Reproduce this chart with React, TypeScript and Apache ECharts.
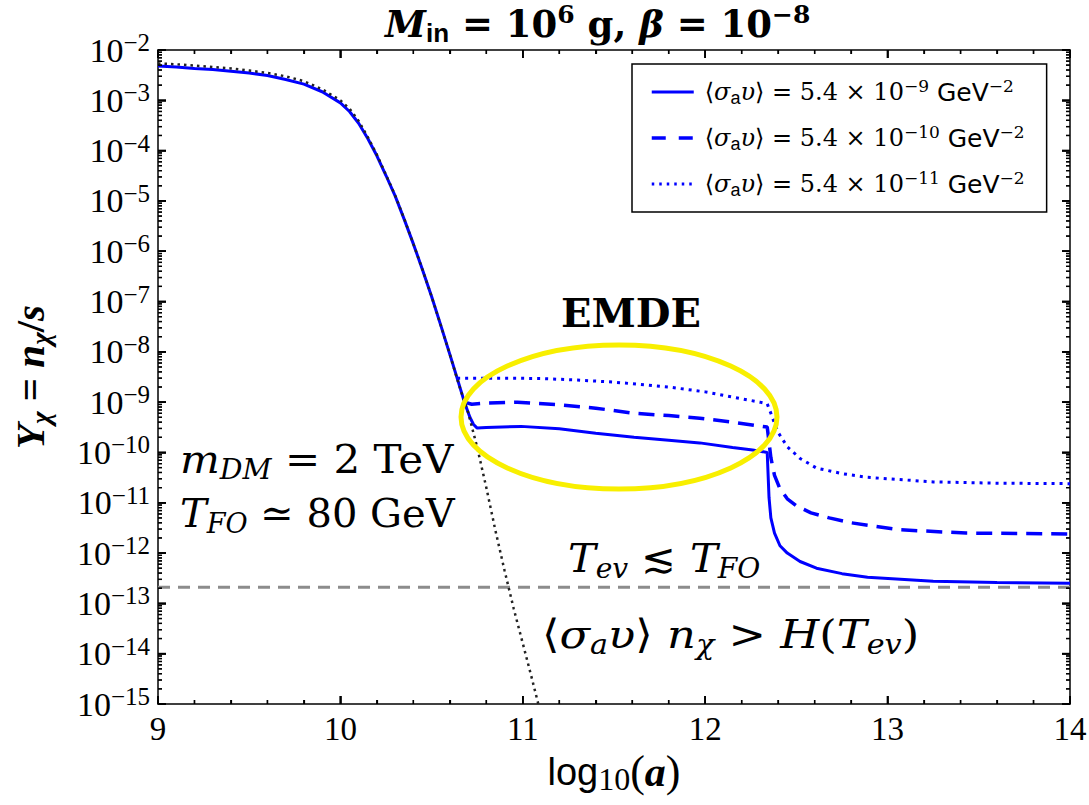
import React, { useEffect, useRef } from "react";
import * as echarts from "echarts";

// ---- data (x = log10(a), y = Y_chi) ----
const solidX = [9.0, 9.1, 9.2, 9.3, 9.4, 9.5, 9.6, 9.7, 9.8, 9.9, 10.0, 10.05, 10.1, 10.15, 10.2, 10.25, 10.3, 10.35, 10.4, 10.45, 10.5, 10.55, 10.6, 10.64, 10.68, 10.71, 10.73, 10.75, 10.8, 10.99, 11.2, 11.4, 11.61, 11.8, 11.97, 12.15, 12.26, 12.34, 12.35, 12.36, 12.38, 12.41, 12.45, 12.52, 12.61, 12.75, 12.89, 13.25, 13.6, 14.0];
const solidY = [4.8e-3, 4.6e-3, 4.3e-3, 4.1e-3, 3.8e-3, 3.5e-3, 3.1e-3, 2.6e-3, 2.1e-3, 1.48e-3, 8.9e-4, 6.0e-4, 3.5e-4, 1.74e-4, 7.9e-5, 3.2e-5, 1.26e-5, 4.3e-6, 1.4e-6, 4.3e-7, 1.26e-7, 3.4e-8, 8.9e-9, 3.0e-9, 1.0e-9, 5.0e-10, 3.6e-10, 3.05e-10, 3.15e-10, 3.3e-10, 2.95e-10, 2.4e-10, 2.0e-10, 1.75e-10, 1.55e-10, 1.26e-10, 1.12e-10, 1.0e-10, 1.26e-11, 5.0e-12, 2.5e-12, 1.4e-12, 1.0e-12, 6.8e-13, 5.0e-13, 3.9e-13, 3.3e-13, 2.75e-13, 2.6e-13, 2.5e-13];

const dashedX = [10.68, 10.72, 10.8, 10.97, 11.2, 11.4, 11.61, 11.8, 11.97, 12.15, 12.34, 12.35, 12.36, 12.38, 12.41, 12.45, 12.5, 12.58, 12.68, 12.8, 13.07, 13.43, 14.0];
const dashedY = [1.0e-9, 9.1e-10, 9.6e-10, 1.0e-9, 8.9e-10, 7.6e-10, 6.0e-10, 5.4e-10, 4.8e-10, 4.0e-10, 3.2e-10, 1.6e-10, 7.9e-11, 3.5e-11, 1.9e-11, 1.2e-11, 8.7e-12, 6.3e-12, 5.0e-12, 4.0e-12, 2.9e-12, 2.5e-12, 2.4e-12];

const dottedX = [10.64, 10.75, 10.9, 11.1, 11.3, 11.5, 11.8, 12.0, 12.15, 12.3, 12.34, 12.36, 12.38, 12.4, 12.45, 12.52, 12.61, 12.75, 12.89, 13.25, 13.6, 14.0];
const dottedY = [3.0e-9, 3.0e-9, 3.0e-9, 2.95e-9, 2.75e-9, 2.5e-9, 2.0e-9, 1.6e-9, 1.26e-9, 1.0e-9, 9.3e-10, 6.0e-10, 3.8e-10, 2.5e-10, 1.3e-10, 7.6e-11, 4.9e-11, 3.8e-11, 3.2e-11, 2.6e-11, 2.45e-11, 2.4e-11];

const eqX = [9.0, 9.1, 9.2, 9.3, 9.4, 9.5, 9.6, 9.7, 9.8, 9.9, 10.0, 10.05, 10.1, 10.15, 10.2, 10.25, 10.3, 10.35, 10.4, 10.45, 10.5, 10.55, 10.6, 10.65, 10.7, 10.75, 10.8, 10.85, 10.9, 10.95, 11.0, 11.05, 11.085];
const eqY = [5.4e-3, 5.2e-3, 4.9e-3, 4.6e-3, 4.3e-3, 3.9e-3, 3.5e-3, 3.0e-3, 2.4e-3, 1.66e-3, 1.0e-3, 6.8e-4, 3.9e-4, 1.86e-4, 8.3e-5, 3.3e-5, 1.29e-5, 4.4e-6, 1.4e-6, 4.3e-7, 1.26e-7, 3.4e-8, 8.9e-9, 2.2e-9, 6.3e-10, 1.26e-10, 2.0e-11, 2.8e-12, 4.5e-13, 7.9e-14, 1.6e-14, 3.2e-15, 1.0e-15];

const refX = [9, 14];
const refY = [2.1e-13, 2.1e-13];

const seriesNames = ["sv9", "sv10", "sv11"];
const seriesExps = ["9", "10", "11"];

// tick positions
const xMajorTicks = [9, 10, 11, 12, 13, 14];
const xMinorTicks = [9.2, 9.4, 9.6, 9.8, 10.2, 10.4, 10.6, 10.8, 11.2, 11.4, 11.6, 11.8, 12.2, 12.4, 12.6, 12.8, 13.2, 13.4, 13.6, 13.8];
const yDecades = [1e-15, 1e-14, 1e-13, 1e-12, 1e-11, 1e-10, 1e-9, 1e-8, 1e-7, 1e-6, 1e-5, 1e-4, 1e-3, 1e-2];
const minorMultipliers = [2, 3, 4, 5, 6, 7, 8, 9];

const pairs = (xs: number[], ys: number[]) => xs.map((x, i) => [x, ys[i]]);

const SERIF = "'Liberation Serif', serif";
const SANS = "'Liberation Sans', sans-serif";
const MATH = "'DejaVu Serif', serif";
const DSANS = "'DejaVu Sans', sans-serif";

const X_MIN = 9;
const X_MAX = 14;
const Y_MIN = 1e-15;
const Y_MAX = 1e-2;

export default function App() {
  const ref = useRef<HTMLDivElement>(null);
  useEffect(() => {
    const chart = echarts.init(ref.current!, null, { renderer: "svg" });

    const yMinorTicks: number[] = [];
    for (let d = 0; d < yDecades.length - 1; d++) {
      for (const k of minorMultipliers) yMinorTicks.push(k * yDecades[d]);
    }

    const yLabelRich = {
      b: { fontFamily: SERIF, fontSize: 34, lineHeight: 40, color: "#000" },
      s: { fontFamily: SERIF, fontSize: 25, lineHeight: 24, verticalAlign: "top", color: "#000" },
    };
    const expFmt = (v: number) => {
      const e = Math.round(Math.log10(v));
      return `{b|10}{s|\u2212${-e}}`;
    };

    const axisLine = { show: true, lineStyle: { color: "#000", width: 1.5 } };
    const majorTick = { show: true, inside: true, length: 8, lineStyle: { color: "#000", width: 1.5 } };
    const minorTickX = { show: true, splitNumber: 5, length: 4, lineStyle: { color: "#000", width: 1.2 } };

    const legendFmt = (name: string) => {
      const i = seriesNames.indexOf(name);
      return `{t|\u27E8}{i|\u03C3}{a|a}{i|\u03C5}{t|\u27E9 = 5.4 \u00D7 10}{sup|\u2212${seriesExps[i]}}{g| GeV}{sup|\u22122}`;
    };

    const hiddenSym = { opacity: 0 };

    const mathRich = {
      i: { fontFamily: MATH, fontStyle: "italic", fontSize: 40, lineHeight: 48, fill: "#000" },
      sub: { fontFamily: MATH, fontStyle: "italic", fontSize: 27, lineHeight: 18, verticalAlign: "bottom", fill: "#000" },
      t: { fontFamily: MATH, fontSize: 40, lineHeight: 48, fill: "#000" },
    };

    // custom-series tick renderers (rects, positioned through the axes' scales)
    const xTickRender = (len: number, lw: number) => (_p: any, api: any) => {
      const v = api.value(0);
      const pb = api.coord([v, Y_MIN]);
      const pt = api.coord([v, Y_MAX]);
      return {
        type: "group",
        children: [
          { type: "rect", shape: { x: pb[0] - lw / 2, y: pb[1] - len, width: lw, height: len }, style: { fill: "#000" } },
          { type: "rect", shape: { x: pt[0] - lw / 2, y: pt[1], width: lw, height: len }, style: { fill: "#000" } },
        ],
      };
    };
    const yTickRender = (len: number, lw: number) => (_p: any, api: any) => {
      const v = api.value(1);
      const pl = api.coord([X_MIN, v]);
      const pr = api.coord([X_MAX, v]);
      return {
        type: "group",
        children: [
          { type: "rect", shape: { x: pl[0], y: pl[1] - lw / 2, width: len, height: lw }, style: { fill: "#000" } },
          { type: "rect", shape: { x: pr[0] - len, y: pr[1] - lw / 2, width: len, height: lw }, style: { fill: "#000" } },
        ],
      };
    };
    const tickSeries = (name: string, data: number[][], render: any) => ({
      name,
      type: "custom",
      data,
      renderItem: render,
      silent: true,
      clip: false,
      z: 6,
    });

    const baseGraphics: any[] = [
      {
        type: "ellipse",
        shape: { cx: 619, cy: 417, rx: 158, ry: 72 },
        style: { fill: "none", stroke: "#f8ef00", lineWidth: 5 },
        z: 100,
      },
      {
        type: "text",
        x: 631,
        y: 312,
        style: { text: "EMDE", fontFamily: MATH, fontWeight: "bold", fontSize: 40, fill: "#000", align: "center", verticalAlign: "middle" },
        z: 100,
      },
      {
        type: "text",
        x: 180,
        y: 435,
        scaleX: 1.05,
        style: { text: "{i|m}{sub|DM}{t| = 2 TeV}", align: "left", verticalAlign: "top", rich: mathRich },
        z: 100,
      },
      {
        type: "text",
        x: 180,
        y: 489,
        style: { text: "{i|T}{sub|FO}{t| \u2243 80 GeV}", align: "left", verticalAlign: "top", rich: mathRich },
        z: 100,
      },
      {
        type: "text",
        x: 568,
        y: 534,
        scaleX: 1.04,
        style: { text: "{i|T}{sub|ev}{t| \u2272 }{i|T}{sub|FO}", align: "left", verticalAlign: "top", rich: mathRich },
        z: 100,
      },
      {
        type: "text",
        x: 542,
        y: 610,
        scaleX: 1.12,
        style: {
          text: "{t|\u27E8}{i|\u03C3}{sub|a}{i|\u03C5}{t|\u27E9 }{i|n}{sub|\u03C7}{t| > }{i|H}{t|(}{i|T}{sub|ev}{t|)}",
          align: "left",
          verticalAlign: "top",
          rich: mathRich,
        },
        z: 100,
      },
    ];

    const option: any = {
      animation: false,
      backgroundColor: "#fff",
      title: {
        left: 385,
        top: 2,
        padding: 0,
        text: "{M|M}{in|in}{eq| = 10}{sup|6}{g| g, }{M|\u03B2}{eq| = 10}{sup|\u22128}",
        textStyle: {
          rich: {
            M: { fontFamily: MATH, fontSize: 37, fontWeight: "bold", fontStyle: "italic", lineHeight: 44, color: "#000" },
            in: { fontFamily: SANS, fontSize: 26, lineHeight: 16, verticalAlign: "bottom", color: "#000" },
            eq: { fontFamily: MATH, fontSize: 37, fontWeight: "bold", lineHeight: 44, color: "#000" },
            g: { fontFamily: MATH, fontSize: 37, lineHeight: 44, color: "#000" },
            sup: { fontFamily: MATH, fontSize: 25, fontWeight: "bold", lineHeight: 24, verticalAlign: "top", color: "#000" },
          },
        },
      },
      grid: { left: 158, right: 19, top: 50, bottom: 101, outerBoundsMode: "none", containLabel: false },
      legend: {
        data: [
          { name: seriesNames[0], itemStyle: hiddenSym, lineStyle: { color: "#0000ff", width: 3, type: "solid" } },
          { name: seriesNames[1], itemStyle: hiddenSym, lineStyle: { color: "#0000ff", width: 3.5, type: [14, 13] } },
          { name: seriesNames[2], itemStyle: hiddenSym, lineStyle: { color: "#0000ff", width: 3, type: [2.5, 5] } },
        ],
        left: 632,
        top: 64,
        orient: "vertical",
        padding: [13, 22, 13, 18],
        itemGap: 16,
        itemWidth: 42,
        itemHeight: 14,
        borderColor: "#000",
        borderWidth: 1.5,
        borderRadius: 0,
        backgroundColor: "#fff",
        formatter: legendFmt,
        textStyle: {
          padding: [0, 0, 0, 6],
          rich: {
            t: { fontFamily: MATH, fontSize: 24, lineHeight: 30, color: "#000" },
            i: { fontFamily: MATH, fontSize: 24, fontStyle: "italic", lineHeight: 30, color: "#000" },
            a: { fontFamily: SANS, fontSize: 18, lineHeight: 20, verticalAlign: "bottom", color: "#000" },
            sup: { fontFamily: MATH, fontSize: 17, lineHeight: 18, verticalAlign: "top", color: "#000" },
            g: { fontFamily: DSANS, fontSize: 25, lineHeight: 30, color: "#000" },
          },
        },
      },
      xAxis: [
        {
          type: "value",
          min: X_MIN,
          max: X_MAX,
          interval: 1,
          position: "bottom",
          name: "{s|log}{sub|10}{p|(}{a|a}{p|)}",
          nameLocation: "middle",
          nameGap: 44,
          nameTextStyle: {
            rich: {
              s: { fontFamily: SANS, fontSize: 38, lineHeight: 46, color: "#000" },
              sub: { fontFamily: SERIF, fontSize: 32, lineHeight: 20, verticalAlign: "bottom", color: "#000" },
              p: { fontFamily: SERIF, fontSize: 44, lineHeight: 46, color: "#000" },
              a: { fontFamily: SERIF, fontSize: 42, fontWeight: "bold", fontStyle: "italic", lineHeight: 46, color: "#000" },
            },
          },
          axisLine,
          splitLine: { show: false },
          axisTick: majorTick,
          minorTick: minorTickX,
          axisLabel: { margin: 8, fontFamily: SERIF, fontSize: 33, color: "#000" },
        },
        {
          type: "value",
          min: X_MIN,
          max: X_MAX,
          interval: 1,
          position: "top",
          axisLine,
          splitLine: { show: false },
          axisTick: majorTick,
          minorTick: minorTickX,
          axisLabel: { show: false },
        },
      ],
      yAxis: [
        {
          type: "log",
          logBase: 10,
          min: Y_MIN,
          max: Y_MAX,
          position: "left",
          splitLine: { show: false },
          axisLine,
          name: "{Y|Y}{sub|\u03C7}{eq| = }{Y|n}{sub|\u03C7}{eq|/}{Y|s}",
          nameLocation: "middle",
          nameRotate: 90,
          nameGap: 104,
          nameTextStyle: {
            rich: {
              Y: { fontFamily: SERIF, fontSize: 41, fontWeight: "bold", fontStyle: "italic", lineHeight: 48, color: "#000" },
              sub: { fontFamily: SERIF, fontSize: 27, fontWeight: "bold", fontStyle: "italic", lineHeight: 18, verticalAlign: "bottom", color: "#000" },
              eq: { fontFamily: SERIF, fontSize: 41, fontWeight: "bold", lineHeight: 48, color: "#000" },
            },
          },
          axisTick: { ...majorTick, customValues: yDecades },
          axisLabel: { margin: 8, formatter: expFmt, rich: yLabelRich, customValues: yDecades },
        },
        {
          type: "log",
          logBase: 10,
          min: Y_MIN,
          max: Y_MAX,
          position: "right",
          splitLine: { show: false },
          axisLine,
          axisTick: { ...majorTick, customValues: yDecades },
          axisLabel: { show: false },
        },
      ],
      series: [
        {
          name: "ref",
          type: "line",
          data: pairs(refX, refY),
          symbol: "none",
          lineStyle: { color: "#8c8c8c", width: 3, type: [12, 8] },
          silent: true,
        },
        {
          name: seriesNames[0],
          type: "line",
          data: pairs(solidX, solidY),
          symbol: "none",
          color: "#0000ff",
          lineStyle: { color: "#0000ff", width: 3 },
        },
        {
          name: seriesNames[1],
          type: "line",
          data: pairs(dashedX, dashedY),
          symbol: "none",
          color: "#0000ff",
          lineStyle: { color: "#0000ff", width: 3.5, type: [16, 9] },
        },
        {
          name: seriesNames[2],
          type: "line",
          data: pairs(dottedX, dottedY),
          symbol: "none",
          color: "#0000ff",
          lineStyle: { color: "#0000ff", width: 3, type: [3, 5] },
        },
        {
          name: "eq",
          type: "line",
          data: pairs(eqX, eqY),
          symbol: "none",
          lineStyle: { color: "#222", width: 2.5, type: [2.5, 4] },
        },
        tickSeries("xMajorTicks", xMajorTicks.map((v) => [v, Y_MAX]), xTickRender(8, 1.6)),
        tickSeries("xMinorTicks", xMinorTicks.map((v) => [v, Y_MAX]), xTickRender(4, 1.3)),
        tickSeries("yMajorTicks", yDecades.map((v) => [X_MIN, v]), yTickRender(8, 1.6)),
        tickSeries("yMinorTicks", yMinorTicks.map((v) => [X_MIN, v]), yTickRender(4, 1.3)),
      ],
      graphic: baseGraphics,
    };

    chart.setOption(option);

    // fallback: graphic tick rects, positioned through the chart's coordinate conversion
    const toPx = (x: number, y: number): number[] | null => {
      let p: any = null;
      try {
        p = chart.convertToPixel({ gridIndex: 0 } as any, [x, y]);
      } catch (e) {
        p = null;
      }
      if (!p || !isFinite(p[0]) || !isFinite(p[1])) return null;
      return p as number[];
    };
    const tickRects: any[] = [];
    const addRect = (x: number, y: number, w: number, h: number) =>
      tickRects.push({
        type: "rect",
        silent: true,
        z: 60,
        shape: { x, y, width: w, height: h },
        style: { fill: "#000" },
      });
    const addX = (v: number, len: number, lw: number) => {
      const pb = toPx(v, Y_MIN);
      const pt = toPx(v, Y_MAX);
      if (!pb || !pt) return;
      addRect(pb[0] - lw / 2, pb[1] - len, lw, len);
      addRect(pt[0] - lw / 2, pt[1], lw, len);
    };
    const addY = (v: number, len: number, lw: number) => {
      const pl = toPx(X_MIN, v);
      const pr = toPx(X_MAX, v);
      if (!pl || !pr) return;
      addRect(pl[0], pl[1] - lw / 2, len, lw);
      addRect(pr[0] - len, pr[1] - lw / 2, len, lw);
    };
    xMajorTicks.forEach((v) => addX(v, 8, 1.6));
    xMinorTicks.forEach((v) => addX(v, 4, 1.3));
    yDecades.forEach((v) => addY(v, 8, 1.6));
    yMinorTicks.forEach((v) => addY(v, 4, 1.3));

    if (tickRects.length) chart.setOption({ graphic: [...baseGraphics, ...tickRects] });

    return () => chart.dispose();
  }, []);
  return (
    <div
      ref={ref}
      style={{ position: "fixed", left: 0, top: 0, width: 1089, height: 805, background: "#fff" }}
    />
  );
}
